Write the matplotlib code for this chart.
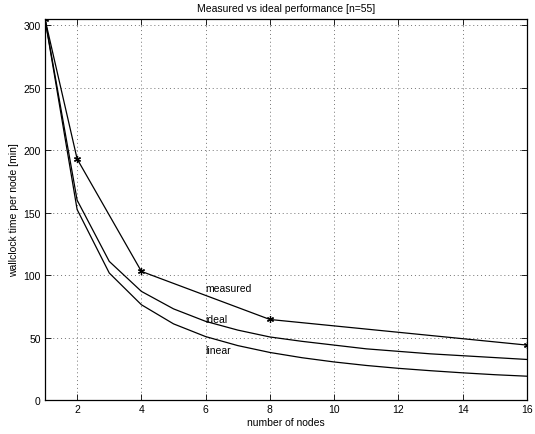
import numpy as np
import matplotlib.pyplot as plt

# datos
nodos = np.arange(1, 17)
ideal = [305, 160, 111, 87, 73, 63, 56, 50.5, 47, 44, 41, 39, 37, 35.5, 34, 32.5]
lineal = [305, 152.5, 101.7, 76.3, 61, 50.8, 43.6, 38.1, 33.9, 30.5, 27.7, 25.4, 23.5, 21.8, 20.3, 19.1]
nodos_medidos = [1, 2, 4, 8, 16]
medido = [305, 193, 103, 64.5, 44]

plt.rcParams['font.family'] = ['Liberation Sans', 'DejaVu Sans']
plt.rcParams['font.size'] = 7.5

fig = plt.figure(figsize=(5.35, 4.35), dpi=100)
ax = fig.add_axes([0.0841, 0.078, 0.9009, 0.876])

# asterisco tipo MATLAB
ax.plot(nodos_medidos, medido, color='k', lw=0.9, marker=(6, 2, 0), ms=5, mew=0.9)
ax.plot(nodos, ideal, color='k', lw=0.9)
ax.plot(nodos, lineal, color='k', lw=0.9)

ax.text(6, 90, 'measured', va='center', ha='left')
ax.text(6, 65, 'ideal', va='center', ha='left')
ax.text(6, 40, 'linear', va='center', ha='left')

ax.set_xlim(1, 16)
ax.set_ylim(0, 305)
ax.set_xticks(range(2, 17, 2))
ax.set_yticks(range(0, 301, 50))
ax.tick_params(direction='in', length=4, width=0.6, top=True, right=True,
               labeltop=False, labelright=False, pad=3)
ax.grid(True, linestyle=(0, (1, 3)), color='0.45', lw=0.7)
for s in ax.spines.values():
    s.set_linewidth(0.9)

ax.set_title('Measured vs ideal performance [n=55]', fontsize=7.5, pad=6)
ax.set_xlabel('number of nodes', labelpad=2)
ax.set_ylabel('wallclock time per node [min]', labelpad=3)

fig.savefig('out.png', dpi=100)
